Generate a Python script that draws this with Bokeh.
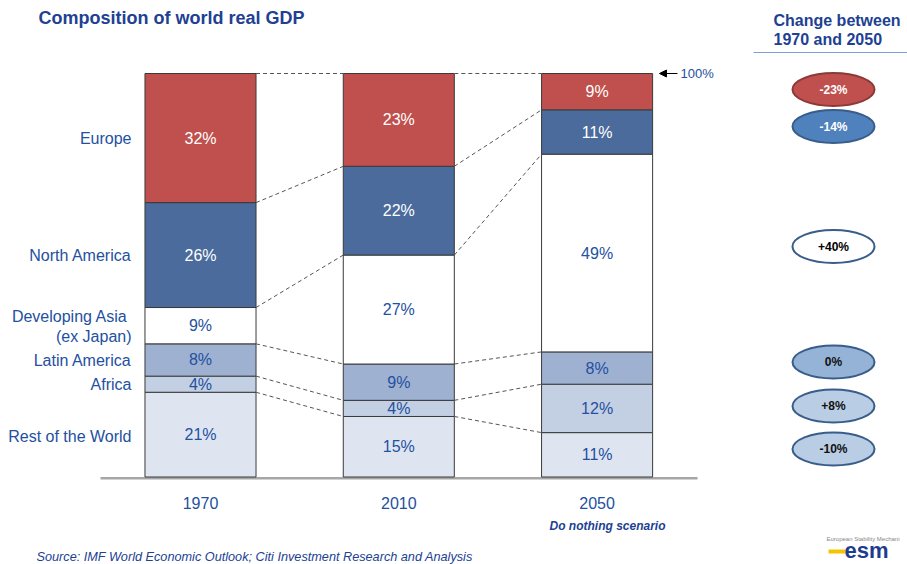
from bokeh.plotting import figure
from bokeh.models import ColumnDataSource, Range1d, Arrow, NormalHead
from bokeh.core.properties import value
from bokeh.embed import file_html
from bokeh.resources import INLINE

# ---------------- data ----------------
years = ["1970", "2010", "2050"]
# stacked bottom -> top
regions = ["Rest of the World", "Africa", "Latin America", "Developing Asia", "North America", "Europe"]
rest_of_world = [21, 15, 11]
africa = [4, 4, 12]
latin_america = [8, 9, 8]
developing_asia = [9, 27, 49]
north_america = [26, 22, 11]
europe = [32, 23, 9]
series = [rest_of_world, africa, latin_america, developing_asia, north_america, europe]
# change between 1970 and 2050, top -> bottom (Europe ... Rest of the World)
change_labels = ["-23%", "-14%", "+40%", "0%", "+8%", "-10%"]

# ---------------- styling ----------------
FONT = value("Liberation Sans")
BLUE_TXT = "#2350A0"
TITLE_BLUE = "#213F93"
seg_fill = ["#DFE5F0", "#C3CFE3", "#9FB1D0", "#FFFFFF", "#4A6B9B", "#C0504D"]
seg_txt = [BLUE_TXT, BLUE_TXT, BLUE_TXT, BLUE_TXT, "#FFFFFF", "#FFFFFF"]
ell_fill = ["#C0504D", "#4F81BD", "#FFFFFF", "#95B3D7", "#B9CDE5", "#B9CDE5"]
ell_line = ["#8C3A38", "#385D8A", "#385D8A", "#385D8A", "#385D8A", "#385D8A"]
ell_txt = ["#FFFFFF", "#FFFFFF", "#000000", "#111111", "#111111", "#111111"]

W, H = 907, 564
OFF = 0                    # page offset of the figure
X0, XS = 200.0, 198.3      # page x of first bar centre, px per category
Y0, YS = 476.5, 4.035      # page y of 0%, px per percentage point
BAR_W = 0.56


def dx(px):
    return (px - X0) / XS


def dy(py):
    return (Y0 - py) / YS


p = figure(width=W, height=H, output_backend="svg", toolbar_location=None,
           x_axis_location=None, y_axis_location=None, min_border=0,
           x_range=Range1d(dx(OFF), dx(OFF + W)), y_range=Range1d(dy(OFF + H), dy(OFF)))
p.grid.visible = False
p.outline_line_color = None
p.background_fill_color = "white"
p.border_fill_color = "white"

# baseline
p.segment(x0=[dx(100)], y0=[dy(477.8)], x1=[dx(697)], y1=[dy(477.8)],
          line_color="#A6A6A6", line_width=2.5)

# stacked bars
xs = list(range(len(years)))
bottoms = [0.0] * len(years)
cum_tops = []
for k, vals in enumerate(series):
    tops = [b + v for b, v in zip(bottoms, vals)]
    src = ColumnDataSource(dict(x=xs, bottom=bottoms, top=tops,
                                ym=[(b + t) / 2 for b, t in zip(bottoms, tops)],
                                lab=[f"{v}%" for v in vals]))
    p.vbar(x="x", width=BAR_W, bottom="bottom", top="top", source=src,
           fill_color=seg_fill[k], line_color="#3A3A3A", line_width=1)
    p.text(x="x", y="ym", text="lab", source=src, text_align="center",
           text_baseline="middle", text_font=FONT, text_font_size="16px",
           text_color=seg_txt[k])
    cum_tops.append(tops)
    bottoms = tops

# dashed connectors between bars at each boundary
cx0, cy0, cx1, cy1 = [], [], [], []
for tops in cum_tops:
    for i in range(len(years) - 1):
        cx0.append(i + BAR_W / 2)
        cy0.append(tops[i])
        cx1.append(i + 1 - BAR_W / 2)
        cy1.append(tops[i + 1])
p.segment(x0=cx0, y0=cy0, x1=cx1, y1=cy1, line_color="#555555",
          line_width=1, line_dash="4 3")

# 100% arrow
p.add_layout(Arrow(end=NormalHead(size=7, fill_color="black", line_color="black"),
                   x_start=dx(677), y_start=100, x_end=dx(659), y_end=100,
                   line_color="black", line_width=1))
p.text(x=[dx(680)], y=[100], text=["100%"], text_font=FONT, text_font_size="13px",
       text_color=BLUE_TXT, text_baseline="middle", text_align="left")

# year labels
p.text(x=xs, y=[dy(502)] * 3, text=years, text_font=FONT, text_font_size="16px",
       text_color=BLUE_TXT, text_align="center", text_baseline="middle")
p.text(x=[dx(607)], y=[dy(525)], text=["Do nothing scenario"], text_font=FONT,
       text_font_size="12px", text_font_style="bold italic", text_color=TITLE_BLUE,
       text_align="center", text_baseline="middle")

# category labels (left)
cat_text = ["Europe", "North America", "Developing Asia", "(ex Japan)",
            "Latin America", "Africa", "Rest of the World"]
cat_px = [131, 131, 127, 131, 131, 131, 131]
cat_py = [138, 255, 316, 336, 360, 384, 436]
p.text(x=[dx(v) for v in cat_px], y=[dy(v) for v in cat_py], text=cat_text,
       text_font=FONT, text_font_size="16px", text_color=BLUE_TXT,
       text_align="right", text_baseline="middle")

# title
p.text(x=[dx(38)], y=[dy(17.5)], text=["Composition of world real GDP"],
       text_font=FONT, text_font_size="18px", text_font_style="bold",
       text_color=TITLE_BLUE, text_align="left", text_baseline="middle")

# right panel
p.text(x=[dx(773), dx(773)], y=[dy(20), dy(38.5)],
       text=["Change between", "1970 and 2050"], text_font=FONT,
       text_font_size="16px", text_font_style="bold", text_color=TITLE_BLUE,
       text_align="left", text_baseline="middle")
p.segment(x0=[dx(753)], y0=[dy(52)], x1=[dx(907)], y1=[dy(52)],
          line_color="#7AA2D6", line_width=1.2)
ell_py = [89, 126, 246, 361.5, 405.5, 448.5]
esrc = ColumnDataSource(dict(x=[dx(833)] * 6, y=[dy(v) for v in ell_py],
                             fill=ell_fill, line=ell_line, tc=ell_txt,
                             lab=change_labels))
p.ellipse(x="x", y="y", width=82 / XS, height=33 / YS, source=esrc,
          fill_color="fill", line_color="line", line_width=2)
p.text(x="x", y="y", text="lab", source=esrc, text_color="tc", text_font=FONT,
       text_font_size="12px", text_font_style="bold", text_align="center",
       text_baseline="middle")

# source
p.text(x=[dx(36)], y=[dy(556)],
       text=["Source:  IMF World Economic Outlook; Citi Investment Research and Analysis"],
       text_font=FONT, text_font_size="12.7px", text_font_style="italic",
       text_color=TITLE_BLUE, text_align="left", text_baseline="middle")

# logo (approximation)
p.text(x=[dx(826)], y=[dy(538)], text=["European Stability Mechani"], text_font=FONT,
       text_font_size="6px", text_color="#888888", text_align="left",
       text_baseline="middle")
p.quad(left=[dx(828)], right=[dx(845)], bottom=[dy(553)], top=[dy(549)],
       fill_color="#F5C400", line_color=None)
p.text(x=[dx(844)], y=[dy(550)], text=["esm"], text_font=FONT,
       text_font_size="22px", text_font_style="bold", text_color="#1D3C8F",
       text_align="left", text_baseline="middle")

open("out.html", "w").write(file_html(p, INLINE))
